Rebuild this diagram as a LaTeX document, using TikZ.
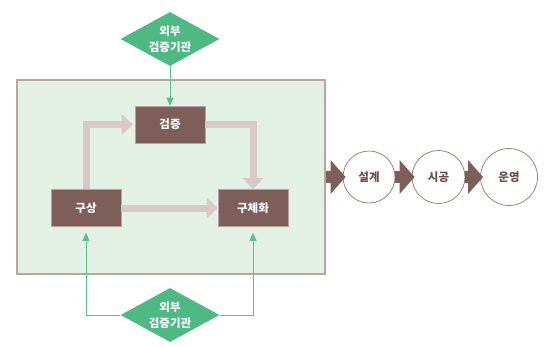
\documentclass[tikz,border=0pt]{standalone}
\usepackage{fontspec}
\setmainfont{Noto Sans CJK KR}
\usepackage{tikz}
\usetikzlibrary{shapes.geometric}
\usepgflibrary{arrows.meta}

\definecolor{framegreen}{HTML}{E3F1E5}
\definecolor{frameedge}{HTML}{B9A5A1}
\definecolor{boxbrown}{HTML}{7E5E58}
\definecolor{boxedge}{HTML}{B8A29D}
\definecolor{flowpink}{HTML}{D9C8C5}
\definecolor{agencygreen}{HTML}{4FB983}
\definecolor{linegreen}{HTML}{5CBF8C}
\definecolor{circlebrown}{HTML}{9E817C}
\definecolor{textbrown}{HTML}{6A4E49}

\begin{document}
\begin{tikzpicture}[x=1pt, y=-1pt,
		every node/.style={font=\fontsize{11.5}{16.5}\selectfont\bfseries},
		stage/.style={rectangle, fill=boxbrown, draw=boxedge, line width=0.6pt, text=white, minimum width=70pt, minimum height=37pt},
		agency/.style={diamond, aspect=1.83, fill=agencygreen, text=white, align=center, inner sep=0pt, minimum width=99pt, minimum height=54pt},
		phase/.style={circle, draw=circlebrown, line width=0.8pt, fill=white, text=textbrown, inner sep=0pt},
		flow/.style={draw=flowpink, line width=7pt, -{Triangle[length=11pt,width=20pt]}},
		push/.style={draw=boxbrown, line width=12pt, -{Triangle[length=15pt,width=33pt]}, shorten >=-3pt},
		check/.style={draw=linegreen, line width=1pt, -{Triangle[length=8pt,width=7pt]}}
	]
		\useasboundingbox (0, 0) rectangle (548, 346);
		\node [draw=frameedge, fill=framegreen, line width=1.2pt, minimum width=308pt, minimum height=194pt] (Zone) at (171, 177) {};
		
		\node [stage] (Review) at (170, 124.5) {검증};
		\node [stage] (Plan) at (86, 208) {구상};
		\node [stage] (Real) at (253, 208) {구체화};
		\node [agency] (ExtT) at (170, 39) {외부\\검증기관};
		\node [agency] (ExtB) at (170, 315) {외부\\검증기관};
		
		\node [phase, minimum size=52pt] (Des) at (369, 177) {설계};
		\node [phase, minimum size=53pt] (Con) at (438.5, 177) {시공};
		\node [phase, minimum size=57pt] (Op) at (509, 177) {운영};
		
		\draw [flow, shorten >=2pt] (Plan.north) |- (Review.west);
		\draw [flow] (Review.east) -| (Real.north);
		\draw [flow] (Plan.east) -- (Real.west);
		
		\draw [check] (ExtT.south) -- (Review.north);
		\draw [check, shorten >=6pt] (ExtB.west) -| (Plan.south);
		\draw [check, shorten >=6pt] (ExtB.east) -| (Real.south);
		
		% out of the frame into the later phases
		\draw [push] (Zone.east) -- (Des.west);
		\draw [push] (Des.east) -- (Con.west);
		\draw [push] (Con.east) -- (Op.west);
\end{tikzpicture}
\end{document}
